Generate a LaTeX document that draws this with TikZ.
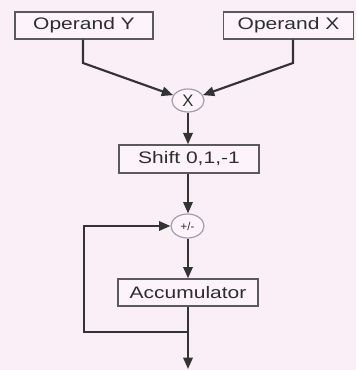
\documentclass[tikz,border=0pt]{standalone}
\usepackage{fontspec}
\newfontfamily\lab{Liberation Sans}[FakeStretch=1.26]
\newfontfamily\labn{Liberation Sans}
\usetikzlibrary{arrows.meta,shapes.geometric,calc}
\definecolor{bgc}{HTML}{FAEFF7}
\definecolor{boxfill}{HTML}{FCF4FA}
\definecolor{boxline}{HTML}{5A5A5A}
\definecolor{wire}{HTML}{333333}
\definecolor{ringc}{HTML}{A49CAC}
\definecolor{txt}{HTML}{2E2E2E}
\tikzset{
  blk/.style={draw=boxline, fill=boxfill, line width=1pt, rectangle, inner sep=0pt,
              font=\lab\fontsize{12.5}{14}\selectfont, text=txt},
  op/.style={draw=ringc, fill=boxfill, line width=0.9pt, ellipse, inner sep=0pt,
             text=txt},
  wirearrow/.style={draw=wire, line width=1.6pt, -{Triangle[length=8.5pt,width=7pt]}},
  wireplain/.style={draw=wire, line width=1.6pt}
}
\begin{document}
\begin{tikzpicture}[x=0.75pt,y=-0.75pt]
\fill[bgc] (0,0) rectangle (356,370);
\useasboundingbox (0,0) rectangle (356,370);

\node[blk, minimum width=138*0.75pt, minimum height=27*0.75pt] (opY) at (84,25.5) {Operand Y};
\node[blk, minimum width=130*0.75pt, minimum height=27*0.75pt] (opX) at (288.5,25.5) {Operand X};
\node[op, minimum width=32*0.75pt, minimum height=23*0.75pt, font=\labn\fontsize{12.5}{13}\selectfont] (mul) at (188,100.5) {X};
\node[op, minimum width=33*0.75pt, minimum height=24*0.75pt, font=\labn\fontsize{8.5}{9}\selectfont] (pm) at (187.5,226) {+/-};
\node[blk, minimum width=140*0.75pt, minimum height=28*0.75pt] (shift) at (189,159) {Shift 0,1,-1};
\node[blk, minimum width=140*0.75pt, minimum height=27*0.75pt] (acc) at (188,292.5) {Accumulator};

\coordinate (yb) at (83,63);
\coordinate (xb) at (293,63);
\coordinate (split) at (188,332);
\coordinate (fbl) at (84,332);
\coordinate (fbt) at (84,226);
\coordinate (out) at (188,369);

\draw[wirearrow] (opY.south -| yb) -- (yb) -- (mul);
\draw[wirearrow] (opX.south -| xb) -- (xb) -- (mul);
\draw[wirearrow] (mul.south) -- (shift.north -| mul.south);
\draw[wirearrow] (shift.south -| mul.south) -- (pm.north -| mul.south);
\draw[wirearrow] (pm.south -| mul.south) -- (acc.north -| mul.south);
\draw[wirearrow] (acc.south -| mul.south) -- (out);
\draw[wirearrow] (split) -- (fbl) -- (fbt) -- (pm.west);
\end{tikzpicture}
\end{document}
